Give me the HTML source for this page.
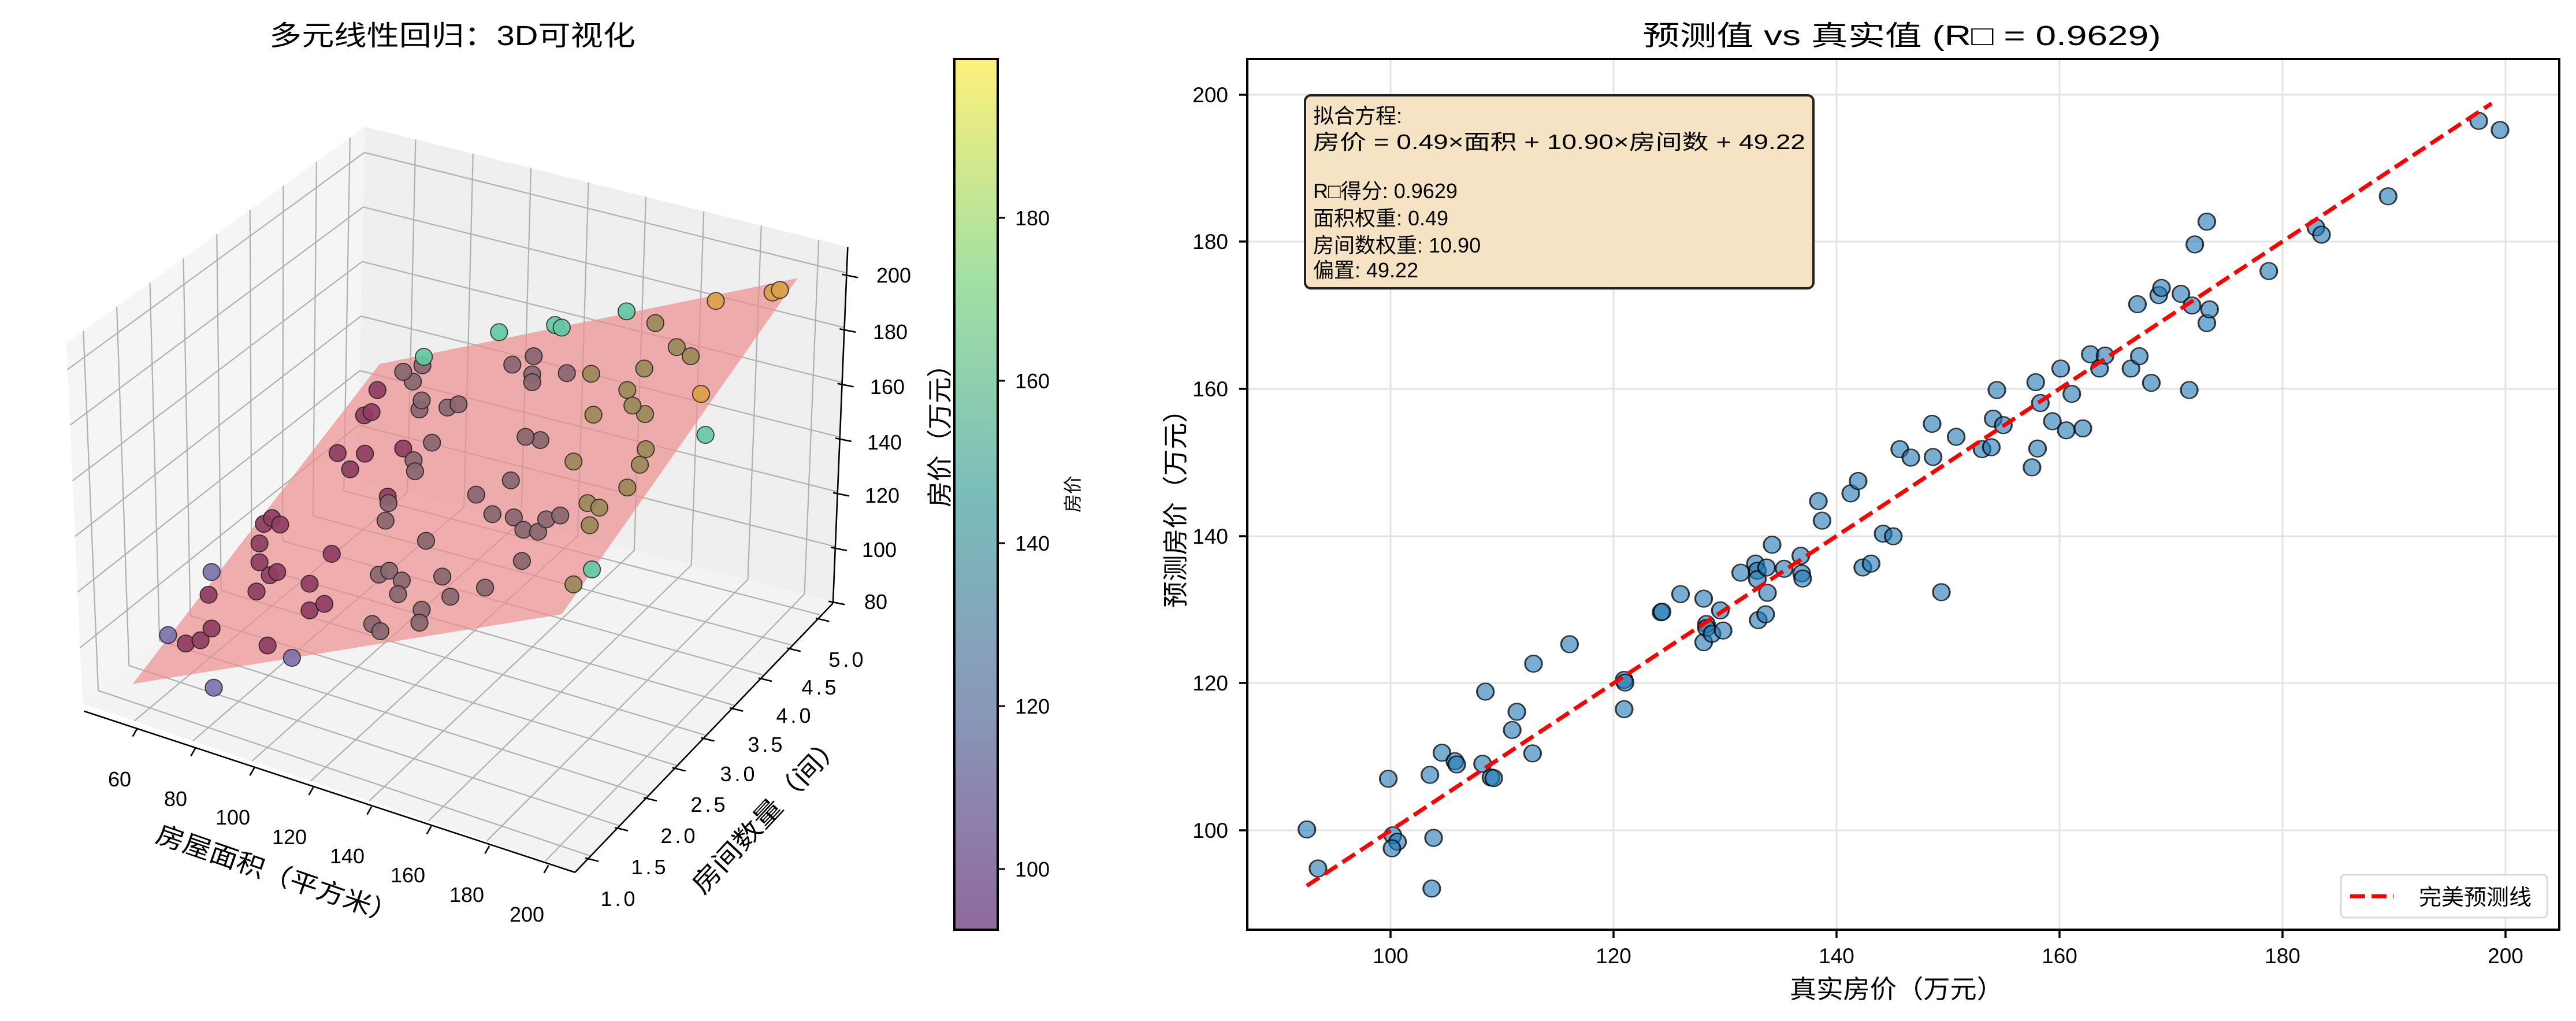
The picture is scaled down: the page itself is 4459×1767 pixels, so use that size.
<!DOCTYPE html>
<html><head><meta charset="utf-8"><style>
html,body{margin:0;padding:0;background:#fff;}
svg{display:block;}
text{font-family:"Liberation Sans","Noto Sans CJK SC",sans-serif;fill:#000;}
</style></head><body>
<svg width="4459" height="1767" viewBox="0 0 4459 1767" xmlns="http://www.w3.org/2000/svg">
<defs>
<linearGradient id="cb" x1="0" y1="1" x2="0" y2="0">
<stop offset="0" stop-color="#8f6a9c"/>
<stop offset="0.25" stop-color="#8997b9"/>
<stop offset="0.5" stop-color="#7abdba"/>
<stop offset="0.75" stop-color="#a3e0a3"/>
<stop offset="1" stop-color="#fdf07a"/>
</linearGradient>
</defs>
<rect width="4459" height="1767" fill="#fff"/>

<!-- ===== LEFT 3D PANEL ===== -->
<text x="783" y="78" font-size="48" text-anchor="middle" textLength="634" lengthAdjust="spacingAndGlyphs">多元线性回归：3D可视化</text>
<g transform="scale(1.276,1.125)">
<!-- panes -->
<polygon points="112,1082 90,528 495,195 485,738" fill="#f5f5f5"/>
<polygon points="485,738 495,195 1150,380 1130,925" fill="#efefef"/>
<polygon points="112,1082 780,1340 1130,925 485,738" fill="#f3f3f3"/>
<g stroke="#b0b0b0" stroke-width="2.2" vector-effect="non-scaling-stroke" fill="none">
<!-- left wall verticals -->
<line x1="133.3" y1="1062.4" x2="113.1" y2="509" vector-effect="non-scaling-stroke"/>
<line x1="175" y1="1023.9" x2="158.4" y2="471.7" vector-effect="non-scaling-stroke"/>
<line x1="216.4" y1="985.7" x2="203.4" y2="434.8" vector-effect="non-scaling-stroke"/>
<line x1="258.2" y1="947.2" x2="248.8" y2="397.5" vector-effect="non-scaling-stroke"/>
<line x1="300" y1="908.6" x2="294.1" y2="360.2" vector-effect="non-scaling-stroke"/>
<line x1="341.4" y1="870.4" x2="339.1" y2="323.2" vector-effect="non-scaling-stroke"/>
<line x1="383.2" y1="831.9" x2="384.4" y2="285.9" vector-effect="non-scaling-stroke"/>
<line x1="424.6" y1="793.7" x2="429.4" y2="248.9" vector-effect="non-scaling-stroke"/>
<line x1="466.4" y1="755.2" x2="474.8" y2="211.6" vector-effect="non-scaling-stroke"/>
<!-- left wall horizontals -->
<line x1="108.6" y1="996.4" x2="486.5" y2="654.1" vector-effect="non-scaling-stroke"/>
<line x1="105.2" y1="910.8" x2="488.1" y2="570.2" vector-effect="non-scaling-stroke"/>
<line x1="101.8" y1="825.2" x2="489.6" y2="486.3" vector-effect="non-scaling-stroke"/>
<line x1="98.4" y1="739.6" x2="491.2" y2="402.4" vector-effect="non-scaling-stroke"/>
<line x1="95" y1="654" x2="492.7" y2="318.5" vector-effect="non-scaling-stroke"/>
<line x1="91.6" y1="568.4" x2="494.3" y2="234.6" vector-effect="non-scaling-stroke"/>
<!-- right wall verticals -->
<line x1="552.7" y1="757.6" x2="563.8" y2="214.4" vector-effect="non-scaling-stroke"/>
<line x1="629.5" y1="779.9" x2="641.7" y2="236.4" vector-effect="non-scaling-stroke"/>
<line x1="706.9" y1="802.3" x2="720.3" y2="258.6" vector-effect="non-scaling-stroke"/>
<line x1="783.6" y1="824.6" x2="798.3" y2="280.7" vector-effect="non-scaling-stroke"/>
<line x1="860.4" y1="846.8" x2="876.2" y2="302.7" vector-effect="non-scaling-stroke"/>
<line x1="937.8" y1="869.3" x2="954.8" y2="324.9" vector-effect="non-scaling-stroke"/>
<line x1="1014.5" y1="891.5" x2="1032.8" y2="346.9" vector-effect="non-scaling-stroke"/>
<line x1="1091.3" y1="913.8" x2="1110.7" y2="368.9" vector-effect="non-scaling-stroke"/>
<!-- right wall horizontals -->
<line x1="486.5" y1="654.1" x2="1133.1" y2="840.8" vector-effect="non-scaling-stroke"/>
<line x1="488.1" y1="570.2" x2="1136.2" y2="756.6" vector-effect="non-scaling-stroke"/>
<line x1="489.6" y1="486.3" x2="1139.3" y2="672.4" vector-effect="non-scaling-stroke"/>
<line x1="491.2" y1="402.4" x2="1142.4" y2="588.2" vector-effect="non-scaling-stroke"/>
<line x1="492.7" y1="318.5" x2="1145.5" y2="504" vector-effect="non-scaling-stroke"/>
<line x1="494.3" y1="234.6" x2="1148.5" y2="419.8" vector-effect="non-scaling-stroke"/>
<!-- floor x lines -->
<line x1="182.1" y1="1109.1" x2="552.7" y2="757.6" vector-effect="non-scaling-stroke"/>
<line x1="261.6" y1="1139.8" x2="629.5" y2="779.9" vector-effect="non-scaling-stroke"/>
<line x1="341.8" y1="1170.8" x2="706.9" y2="802.3" vector-effect="non-scaling-stroke"/>
<line x1="421.3" y1="1201.5" x2="783.6" y2="824.6" vector-effect="non-scaling-stroke"/>
<line x1="500.8" y1="1232.2" x2="860.4" y2="846.8" vector-effect="non-scaling-stroke"/>
<line x1="581" y1="1263.1" x2="937.8" y2="869.3" vector-effect="non-scaling-stroke"/>
<line x1="660.4" y1="1293.8" x2="1014.5" y2="891.5" vector-effect="non-scaling-stroke"/>
<line x1="739.9" y1="1324.5" x2="1091.3" y2="913.8" vector-effect="non-scaling-stroke"/>
<!-- floor y lines -->
<line x1="133.3" y1="1062.4" x2="800" y2="1316.3" vector-effect="non-scaling-stroke"/>
<line x1="175" y1="1023.9" x2="839.2" y2="1269.9" vector-effect="non-scaling-stroke"/>
<line x1="216.4" y1="985.7" x2="878" y2="1223.8" vector-effect="non-scaling-stroke"/>
<line x1="258.2" y1="947.2" x2="917.2" y2="1177.3" vector-effect="non-scaling-stroke"/>
<line x1="300" y1="908.6" x2="956.4" y2="1130.8" vector-effect="non-scaling-stroke"/>
<line x1="341.4" y1="870.4" x2="995.3" y2="1084.8" vector-effect="non-scaling-stroke"/>
<line x1="383.2" y1="831.9" x2="1034.5" y2="1038.3" vector-effect="non-scaling-stroke"/>
<line x1="424.6" y1="793.7" x2="1073.3" y2="992.2" vector-effect="non-scaling-stroke"/>
<line x1="466.4" y1="755.2" x2="1112.5" y2="945.8" vector-effect="non-scaling-stroke"/>
</g>
<!-- axis lines -->
<g stroke="#000" stroke-width="2.6" fill="none">
<line x1="114" y1="1094" x2="780" y2="1342" vector-effect="non-scaling-stroke"/>
<line x1="780" y1="1342" x2="1130" y2="928" vector-effect="non-scaling-stroke"/>
<line x1="1130" y1="928" x2="1150" y2="380" vector-effect="non-scaling-stroke"/>
<!-- x ticks -->
<path d="M186,1121 l-6,12 M265,1151 l-6,12 M345,1181 l-6,12 M425,1211 l-6,12 M504,1241 l-6,12 M585,1271 l-6,12 M664,1301 l-6,12 M744,1331 l-6,12" vector-effect="non-scaling-stroke"/>
<!-- y ticks -->
<path d="M794,1320 l18,5 M834,1273 l18,5 M873,1227 l18,5 M912,1181 l18,5 M951,1135 l18,5 M990,1089 l18,5 M1029,1043 l18,5 M1068,997 l18,5 M1107,951 l18,5" vector-effect="non-scaling-stroke"/>
<!-- z ticks -->
<path d="M1124,925 l22,5 M1127,842 l22,5 M1130,758 l22,5 M1133,674 l22,5 M1136,590 l22,5 M1139,506 l22,5 M1142,422 l22,5" vector-effect="non-scaling-stroke"/>
</g>
<!-- plane -->
<polygon points="180,1052 515,560 1082,428 762,945" fill="#ec8f8f" fill-opacity="0.7"/>
<!-- points -->
<g stroke="#1a1a1a" stroke-width="1.5" stroke-opacity="0.8">
<g fill="#8e3e62" fill-opacity="0.92">
<ellipse cx="252" cy="990" rx="11.5" ry="13"/><ellipse cx="272" cy="985" rx="11.5" ry="13"/><ellipse cx="287" cy="967" rx="11.5" ry="13"/><ellipse cx="283" cy="915" rx="11.5" ry="13"/><ellipse cx="363" cy="993" rx="11.5" ry="13"/><ellipse cx="348" cy="910" rx="11.5" ry="13"/><ellipse cx="366" cy="885" rx="11.5" ry="13"/><ellipse cx="376" cy="880" rx="11.5" ry="13"/><ellipse cx="352" cy="865" rx="11.5" ry="13"/><ellipse cx="352" cy="836" rx="11.5" ry="13"/><ellipse cx="358" cy="806" rx="11.5" ry="13"/><ellipse cx="369" cy="797" rx="11.5" ry="13"/><ellipse cx="380" cy="807" rx="11.5" ry="13"/><ellipse cx="420" cy="898" rx="11.5" ry="13"/><ellipse cx="420" cy="939" rx="11.5" ry="13"/><ellipse cx="440" cy="929" rx="11.5" ry="13"/><ellipse cx="450" cy="852" rx="11.5" ry="13"/><ellipse cx="526" cy="764" rx="11.5" ry="13"/><ellipse cx="547" cy="690" rx="11.5" ry="13"/><ellipse cx="458" cy="697" rx="11.5" ry="13"/><ellipse cx="475" cy="722" rx="11.5" ry="13"/><ellipse cx="495" cy="698" rx="11.5" ry="13"/><ellipse cx="494" cy="639" rx="11.5" ry="13"/><ellipse cx="504" cy="634" rx="11.5" ry="13"/><ellipse cx="512" cy="600" rx="11.5" ry="13"/>
</g>
<g fill="#7a70a8" fill-opacity="0.9">
<ellipse cx="228" cy="977" rx="11.5" ry="13"/><ellipse cx="290" cy="1058" rx="11.5" ry="13"/><ellipse cx="287" cy="880" rx="11.5" ry="13"/><ellipse cx="396" cy="1012" rx="11.5" ry="13"/>
</g>
<g fill="#8a6670" fill-opacity="0.92">
<ellipse cx="505" cy="960" rx="11.5" ry="13"/><ellipse cx="516" cy="971" rx="11.5" ry="13"/><ellipse cx="514" cy="884" rx="11.5" ry="13"/><ellipse cx="528" cy="878" rx="11.5" ry="13"/><ellipse cx="545" cy="893" rx="11.5" ry="13"/><ellipse cx="540" cy="914" rx="11.5" ry="13"/><ellipse cx="572" cy="938" rx="11.5" ry="13"/><ellipse cx="569" cy="958" rx="11.5" ry="13"/><ellipse cx="578" cy="832" rx="11.5" ry="13"/><ellipse cx="523" cy="801" rx="11.5" ry="13"/><ellipse cx="527" cy="774" rx="11.5" ry="13"/><ellipse cx="600" cy="887" rx="11.5" ry="13"/><ellipse cx="611" cy="918" rx="11.5" ry="13"/><ellipse cx="658" cy="904" rx="11.5" ry="13"/><ellipse cx="708" cy="863" rx="11.5" ry="13"/><ellipse cx="646" cy="761" rx="11.5" ry="13"/><ellipse cx="668" cy="791" rx="11.5" ry="13"/><ellipse cx="697" cy="796" rx="11.5" ry="13"/><ellipse cx="710" cy="815" rx="11.5" ry="13"/><ellipse cx="730" cy="818" rx="11.5" ry="13"/><ellipse cx="741" cy="799" rx="11.5" ry="13"/><ellipse cx="760" cy="793" rx="11.5" ry="13"/><ellipse cx="769" cy="574" rx="11.5" ry="13"/><ellipse cx="724" cy="548" rx="11.5" ry="13"/><ellipse cx="722" cy="576" rx="11.5" ry="13"/><ellipse cx="722" cy="588" rx="11.5" ry="13"/><ellipse cx="695" cy="561" rx="11.5" ry="13"/><ellipse cx="733" cy="677" rx="11.5" ry="13"/><ellipse cx="713" cy="672" rx="11.5" ry="13"/><ellipse cx="693" cy="739" rx="11.5" ry="13"/><ellipse cx="586" cy="681" rx="11.5" ry="13"/><ellipse cx="561" cy="708" rx="11.5" ry="13"/><ellipse cx="563" cy="725" rx="11.5" ry="13"/><ellipse cx="560" cy="587" rx="11.5" ry="13"/><ellipse cx="547" cy="572" rx="11.5" ry="13"/><ellipse cx="573" cy="562" rx="11.5" ry="13"/><ellipse cx="569" cy="630" rx="11.5" ry="13"/><ellipse cx="572" cy="616" rx="11.5" ry="13"/><ellipse cx="607" cy="627" rx="11.5" ry="13"/><ellipse cx="622" cy="622" rx="11.5" ry="13"/>
</g>
<g fill="#9a8858" fill-opacity="0.92">
<ellipse cx="800" cy="808" rx="11.5" ry="13"/><ellipse cx="797" cy="774" rx="11.5" ry="13"/><ellipse cx="813" cy="781" rx="11.5" ry="13"/><ellipse cx="778" cy="899" rx="11.5" ry="13"/><ellipse cx="851" cy="750" rx="11.5" ry="13"/><ellipse cx="868" cy="715" rx="11.5" ry="13"/><ellipse cx="876" cy="691" rx="11.5" ry="13"/><ellipse cx="875" cy="637" rx="11.5" ry="13"/><ellipse cx="851" cy="600" rx="11.5" ry="13"/><ellipse cx="858" cy="624" rx="11.5" ry="13"/><ellipse cx="874" cy="567" rx="11.5" ry="13"/><ellipse cx="805" cy="638" rx="11.5" ry="13"/><ellipse cx="778" cy="710" rx="11.5" ry="13"/><ellipse cx="802" cy="575" rx="11.5" ry="13"/><ellipse cx="889" cy="497" rx="11.5" ry="13"/><ellipse cx="918" cy="534" rx="11.5" ry="13"/><ellipse cx="937" cy="548" rx="11.5" ry="13"/>
</g>
<g fill="#dca048" fill-opacity="0.92">
<ellipse cx="951" cy="606" rx="11.5" ry="13"/><ellipse cx="971" cy="463" rx="11.5" ry="13"/><ellipse cx="1048" cy="450" rx="11.5" ry="13"/><ellipse cx="1058" cy="446" rx="11.5" ry="13"/>
</g>
<g fill="#64c8a4" fill-opacity="0.92">
<ellipse cx="803" cy="876" rx="11.5" ry="13"/><ellipse cx="575" cy="549" rx="11.5" ry="13"/><ellipse cx="677" cy="511" rx="11.5" ry="13"/><ellipse cx="753" cy="500" rx="11.5" ry="13"/><ellipse cx="762" cy="504" rx="11.5" ry="13"/><ellipse cx="850" cy="479" rx="11.5" ry="13"/><ellipse cx="957" cy="669" rx="11.5" ry="13"/>
</g>
</g>
</g>
<!-- 3D tick labels -->
<g font-size="36" text-anchor="middle">
<text x="207" y="1361">60</text><text x="304" y="1395">80</text><text x="403" y="1427">100</text><text x="501" y="1461">120</text><text x="601" y="1494">140</text><text x="706" y="1527">160</text><text x="808" y="1561">180</text><text x="912" y="1595">200</text>
</g>
<g font-size="36" text-anchor="middle" letter-spacing="5">
<text x="1072" y="1568">1.0</text><text x="1125" y="1513">1.5</text><text x="1176" y="1459">2.0</text><text x="1228" y="1405">2.5</text><text x="1279" y="1352">3.0</text><text x="1327" y="1301">3.5</text><text x="1376" y="1251">4.0</text><text x="1420" y="1202">4.5</text><text x="1467" y="1154">5.0</text>
</g>
<g font-size="36" text-anchor="middle">
<text x="1516" y="1054">80</text><text x="1522" y="964">100</text><text x="1527" y="870">120</text><text x="1531" y="778">140</text><text x="1536" y="682">160</text><text x="1541" y="587">180</text><text x="1547" y="489">200</text>
</g>
<text font-size="44" text-anchor="middle" transform="translate(475,1528) rotate(19)" textLength="440" lengthAdjust="spacingAndGlyphs">房屋面积（平方米）</text>
<text font-size="44" text-anchor="middle" transform="translate(1340,1418) rotate(-47)" textLength="360" lengthAdjust="spacingAndGlyphs">房间数量（间）</text>
<text font-size="44" text-anchor="middle" transform="translate(1642,743) rotate(-90)" textLength="270" lengthAdjust="spacingAndGlyphs">房价（万元）</text>

<!-- colorbar -->
<rect x="1652" y="102" width="75" height="1507" fill="url(#cb)" stroke="#000" stroke-width="4"/>
<g stroke="#000" stroke-width="3">
<line x1="1727" y1="1504" x2="1740" y2="1504"/><line x1="1727" y1="1222" x2="1740" y2="1222"/><line x1="1727" y1="940" x2="1740" y2="940"/><line x1="1727" y1="659" x2="1740" y2="659"/><line x1="1727" y1="377" x2="1740" y2="377"/>
</g>
<g font-size="36">
<text x="1757" y="1517">100</text><text x="1757" y="1235">120</text><text x="1757" y="953">140</text><text x="1757" y="672">160</text><text x="1757" y="390">180</text>
</g>
<text font-size="32" text-anchor="middle" transform="translate(1868,855) rotate(-90)">房价</text>

<!-- ===== RIGHT PANEL ===== -->
<text x="3292" y="78" font-size="48" text-anchor="middle" textLength="897" lengthAdjust="spacingAndGlyphs">预测值 vs 真实值 (R□ = 0.9629)</text>
<!-- grid -->
<g stroke="#e3e3e3" stroke-width="3">
<line x1="2407" y1="102" x2="2407" y2="1609"/><line x1="2793" y1="102" x2="2793" y2="1609"/><line x1="3179" y1="102" x2="3179" y2="1609"/><line x1="3565" y1="102" x2="3565" y2="1609"/><line x1="3951" y1="102" x2="3951" y2="1609"/><line x1="4337" y1="102" x2="4337" y2="1609"/>
<line x1="2159" y1="164" x2="4430" y2="164"/><line x1="2159" y1="418" x2="4430" y2="418"/><line x1="2159" y1="673" x2="4430" y2="673"/><line x1="2159" y1="928" x2="4430" y2="928"/><line x1="2159" y1="1182" x2="4430" y2="1182"/><line x1="2159" y1="1437" x2="4430" y2="1437"/>
</g>
<!-- dots -->
<g transform="translate(1950,0) scale(1.601,1.125)" fill="#1f77b4" fill-opacity="0.6" stroke="#000" stroke-opacity="0.75" stroke-width="2" >
<g vector-effect="non-scaling-stroke">
<ellipse cx="195" cy="1276" rx="9.1" ry="12.9"/><ellipse cx="207" cy="1336" rx="9.1" ry="12.9"/><ellipse cx="283" cy="1198" rx="9.1" ry="12.9"/><ellipse cx="288" cy="1285" rx="9.1" ry="12.9"/><ellipse cx="293" cy="1295" rx="9.1" ry="12.9"/><ellipse cx="287" cy="1305" rx="9.1" ry="12.9"/><ellipse cx="328" cy="1192" rx="9.1" ry="12.9"/><ellipse cx="332" cy="1289" rx="9.1" ry="12.9"/><ellipse cx="330" cy="1367" rx="9.1" ry="12.9"/><ellipse cx="341" cy="1158" rx="9.1" ry="12.9"/><ellipse cx="355" cy="1171" rx="9.1" ry="12.9"/><ellipse cx="357" cy="1176" rx="9.1" ry="12.9"/><ellipse cx="385" cy="1175" rx="9.1" ry="12.9"/><ellipse cx="388" cy="1064" rx="9.1" ry="12.9"/><ellipse cx="394" cy="1196" rx="9.1" ry="12.9"/><ellipse cx="397" cy="1197" rx="9.1" ry="12.9"/><ellipse cx="417" cy="1123" rx="9.1" ry="12.9"/><ellipse cx="422" cy="1095" rx="9.1" ry="12.9"/><ellipse cx="439" cy="1159" rx="9.1" ry="12.9"/><ellipse cx="440" cy="1021" rx="9.1" ry="12.9"/><ellipse cx="479" cy="991" rx="9.1" ry="12.9"/><ellipse cx="538" cy="1046" rx="9.1" ry="12.9"/><ellipse cx="539" cy="1050" rx="9.1" ry="12.9"/><ellipse cx="538" cy="1091" rx="9.1" ry="12.9"/><ellipse cx="578" cy="942" rx="9.1" ry="12.9"/><ellipse cx="579" cy="941" rx="9.1" ry="12.9"/><ellipse cx="599" cy="914" rx="9.1" ry="12.9"/><ellipse cx="624" cy="921" rx="9.1" ry="12.9"/><ellipse cx="624" cy="988" rx="9.1" ry="12.9"/><ellipse cx="627" cy="960" rx="9.1" ry="12.9"/><ellipse cx="627" cy="966" rx="9.1" ry="12.9"/><ellipse cx="633" cy="975" rx="9.1" ry="12.9"/><ellipse cx="642" cy="939" rx="9.1" ry="12.9"/><ellipse cx="645" cy="970" rx="9.1" ry="12.9"/><ellipse cx="664" cy="881" rx="9.1" ry="12.9"/><ellipse cx="680" cy="867" rx="9.1" ry="12.9"/><ellipse cx="682" cy="878" rx="9.1" ry="12.9"/><ellipse cx="682" cy="891" rx="9.1" ry="12.9"/><ellipse cx="683" cy="954" rx="9.1" ry="12.9"/><ellipse cx="691" cy="945" rx="9.1" ry="12.9"/><ellipse cx="692" cy="873" rx="9.1" ry="12.9"/><ellipse cx="693" cy="912" rx="9.1" ry="12.9"/><ellipse cx="698" cy="838" rx="9.1" ry="12.9"/><ellipse cx="711" cy="875" rx="9.1" ry="12.9"/><ellipse cx="729" cy="855" rx="9.1" ry="12.9"/><ellipse cx="730" cy="882" rx="9.1" ry="12.9"/><ellipse cx="731" cy="890" rx="9.1" ry="12.9"/><ellipse cx="748" cy="771" rx="9.1" ry="12.9"/><ellipse cx="752" cy="801" rx="9.1" ry="12.9"/><ellipse cx="783" cy="759" rx="9.1" ry="12.9"/><ellipse cx="791" cy="740" rx="9.1" ry="12.9"/><ellipse cx="796" cy="873" rx="9.1" ry="12.9"/><ellipse cx="805" cy="867" rx="9.1" ry="12.9"/><ellipse cx="818" cy="821" rx="9.1" ry="12.9"/><ellipse cx="829" cy="825" rx="9.1" ry="12.9"/><ellipse cx="836" cy="691" rx="9.1" ry="12.9"/><ellipse cx="848" cy="704" rx="9.1" ry="12.9"/><ellipse cx="871" cy="652" rx="9.1" ry="12.9"/><ellipse cx="872" cy="703" rx="9.1" ry="12.9"/><ellipse cx="881" cy="911" rx="9.1" ry="12.9"/><ellipse cx="897" cy="672" rx="9.1" ry="12.9"/><ellipse cx="925" cy="691" rx="9.1" ry="12.9"/><ellipse cx="935" cy="688" rx="9.1" ry="12.9"/><ellipse cx="937" cy="644" rx="9.1" ry="12.9"/><ellipse cx="941" cy="600" rx="9.1" ry="12.9"/><ellipse cx="948" cy="654" rx="9.1" ry="12.9"/><ellipse cx="979" cy="719" rx="9.1" ry="12.9"/><ellipse cx="983" cy="588" rx="9.1" ry="12.9"/><ellipse cx="985" cy="690" rx="9.1" ry="12.9"/><ellipse cx="988" cy="620" rx="9.1" ry="12.9"/><ellipse cx="1001" cy="648" rx="9.1" ry="12.9"/><ellipse cx="1010" cy="567" rx="9.1" ry="12.9"/><ellipse cx="1016" cy="662" rx="9.1" ry="12.9"/><ellipse cx="1022" cy="606" rx="9.1" ry="12.9"/><ellipse cx="1034" cy="659" rx="9.1" ry="12.9"/><ellipse cx="1042" cy="545" rx="9.1" ry="12.9"/><ellipse cx="1052" cy="567" rx="9.1" ry="12.9"/><ellipse cx="1058" cy="547" rx="9.1" ry="12.9"/><ellipse cx="1086" cy="567" rx="9.1" ry="12.9"/><ellipse cx="1093" cy="468" rx="9.1" ry="12.9"/><ellipse cx="1095" cy="548" rx="9.1" ry="12.9"/><ellipse cx="1108" cy="589" rx="9.1" ry="12.9"/><ellipse cx="1116" cy="454" rx="9.1" ry="12.9"/><ellipse cx="1119" cy="443" rx="9.1" ry="12.9"/><ellipse cx="1140" cy="452" rx="9.1" ry="12.9"/><ellipse cx="1149" cy="600" rx="9.1" ry="12.9"/><ellipse cx="1152" cy="470" rx="9.1" ry="12.9"/><ellipse cx="1155" cy="376" rx="9.1" ry="12.9"/><ellipse cx="1168" cy="341" rx="9.1" ry="12.9"/><ellipse cx="1168" cy="497" rx="9.1" ry="12.9"/><ellipse cx="1171" cy="476" rx="9.1" ry="12.9"/><ellipse cx="1235" cy="417" rx="9.1" ry="12.9"/><ellipse cx="1286" cy="350" rx="9.1" ry="12.9"/><ellipse cx="1292" cy="361" rx="9.1" ry="12.9"/><ellipse cx="1364" cy="302" rx="9.1" ry="12.9"/><ellipse cx="1462" cy="186" rx="9.1" ry="12.9"/><ellipse cx="1485" cy="200" rx="9.1" ry="12.9"/>
</g>
</g>
<!-- perfect line -->
<line x1="2262" y1="1533" x2="4313" y2="179" stroke="#ff0000" stroke-width="7" stroke-dasharray="26,11"/>
<!-- axes frame -->
<rect x="2159" y="102" width="2271" height="1507" fill="none" stroke="#000" stroke-width="4"/>
<!-- ticks -->
<g stroke="#000" stroke-width="3.5">
<line x1="2407" y1="1609" x2="2407" y2="1623"/><line x1="2793" y1="1609" x2="2793" y2="1623"/><line x1="3179" y1="1609" x2="3179" y2="1623"/><line x1="3565" y1="1609" x2="3565" y2="1623"/><line x1="3951" y1="1609" x2="3951" y2="1623"/><line x1="4337" y1="1609" x2="4337" y2="1623"/>
<line x1="2145" y1="164" x2="2159" y2="164"/><line x1="2145" y1="418" x2="2159" y2="418"/><line x1="2145" y1="673" x2="2159" y2="673"/><line x1="2145" y1="928" x2="2159" y2="928"/><line x1="2145" y1="1182" x2="2159" y2="1182"/><line x1="2145" y1="1437" x2="2159" y2="1437"/>
</g>
<g font-size="37" text-anchor="middle">
<text x="2407" y="1667">100</text><text x="2793" y="1667">120</text><text x="3179" y="1667">140</text><text x="3565" y="1667">160</text><text x="3951" y="1667">180</text><text x="4337" y="1667">200</text>
</g>
<g font-size="37" text-anchor="end">
<text x="2126" y="177">200</text><text x="2126" y="431">180</text><text x="2126" y="686">160</text><text x="2126" y="941">140</text><text x="2126" y="1195">120</text><text x="2126" y="1450">100</text>
</g>
<text x="3283" y="1727" font-size="44" text-anchor="middle" textLength="370" lengthAdjust="spacingAndGlyphs">真实房价（万元）</text>
<text font-size="44" text-anchor="middle" transform="translate(2050,869) rotate(-90)" textLength="366" lengthAdjust="spacingAndGlyphs">预测房价（万元）</text>
<!-- text box -->
<rect x="2259" y="165" width="880" height="334" rx="10" ry="10" fill="#f5e3c3" stroke="#222" stroke-width="4"/>
<g font-size="36">
<text x="2273" y="213">拟合方程:</text>
<text x="2273" y="258" textLength="852" lengthAdjust="spacingAndGlyphs">房价 = 0.49×面积 + 10.90×房间数 + 49.22</text>
<text x="2273" y="343">R□得分: 0.9629</text>
<text x="2273" y="390">面积权重: 0.49</text>
<text x="2273" y="437">房间数权重: 10.90</text>
<text x="2273" y="480">偏置: 49.22</text>
</g>
<!-- legend -->
<rect x="4052" y="1514" width="357" height="74" rx="7" ry="7" fill="#fff" fill-opacity="0.85" stroke="#d8d8d8" stroke-width="3"/>
<line x1="4068" y1="1551" x2="4143" y2="1551" stroke="#ff0000" stroke-width="7" stroke-dasharray="26,11"/>
<text x="4187" y="1566" font-size="38" textLength="195" lengthAdjust="spacingAndGlyphs">完美预测线</text>
</svg>
</body></html>
